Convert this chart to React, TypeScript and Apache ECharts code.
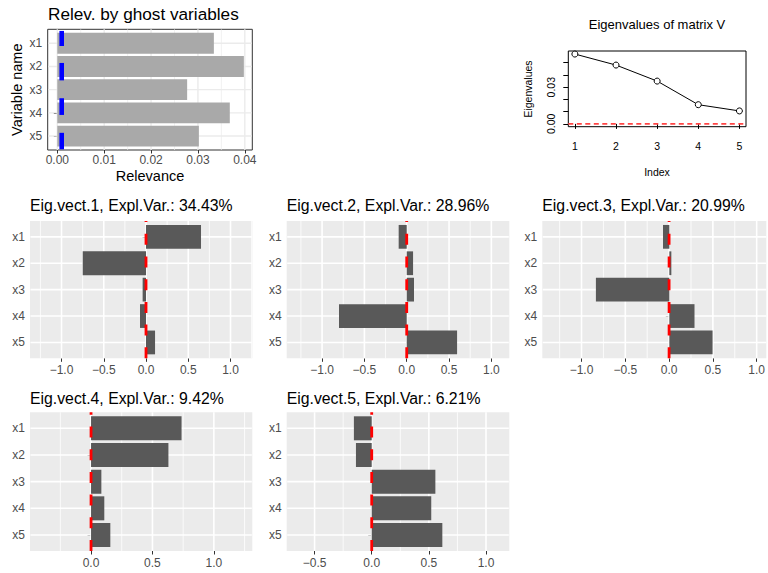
import React, { useEffect, useRef } from 'react';
import * as echarts from 'echarts';

// ---------------- data ----------------
const variables = ['x1', 'x2', 'x3', 'x4', 'x5'];
const relevance = [0.0334, 0.0398, 0.0277, 0.0368, 0.0302];
// blue ghost marks: value, and vertical extent in category units relative to the row centre (null = no mark)
const ghostValue = [0.00094, 0.00094, null, 0.00094, 0.00094];
const ghostLow = [-0.53, -0.15, null, -0.63, -0.14];
const ghostHigh = [0.12, 0.6, null, 0.09, 0.57];
const relevanceTicks = [0, 0.01, 0.02, 0.03, 0.04];
const relevanceMinor = [0.005, 0.015, 0.025, 0.035];

const eigIndex = [1, 2, 3, 4, 5];
const eigenvalues = [0.0571, 0.0481, 0.035, 0.0157, 0.0106];
const eigTickValues = [0, 0.01, 0.02, 0.03, 0.04, 0.05];
const eigLabelValues = [0, 0.03];

const explVar = ['34.43%', '28.96%', '20.99%', '9.42%', '6.21%'];
const eigVect1 = [0.651, -0.749, -0.04, -0.071, 0.107];
const eigVect2 = [-0.095, 0.075, 0.086, -0.8, 0.595];
const eigVect3 = [-0.072, 0.023, -0.837, 0.287, 0.493];
const eigVect4 = [0.737, 0.63, 0.084, 0.108, 0.157];
const eigVect5 = [-0.156, -0.138, 0.557, 0.521, 0.618];
const vectMajor = [-1, -0.5, 0, 0.5, 1];
const vectMinor = [-1.25, -0.75, -0.25, 0.25, 0.75, 1.25];

const FONT = '"Liberation Sans", Arial, Helvetica, sans-serif';

function vLines(axisIdx: number, values: number[], width: number, color: string, z: number) {
  return {
    type: 'custom', xAxisIndex: axisIdx, yAxisIndex: axisIdx, silent: true, z,
    data: values.map((v) => [v, 0]),
    renderItem: (params: any, api: any) => {
      const cs = params.coordSys;
      const x = api.coord([api.value(0), 0])[0];
      return { type: 'line', shape: { x1: x, y1: cs.y, x2: x, y2: cs.y + cs.height }, style: { stroke: color, lineWidth: width } };
    },
  };
}

function hLines(axisIdx: number, n: number, width: number, color: string, z: number) {
  return {
    type: 'custom', xAxisIndex: axisIdx, yAxisIndex: axisIdx, silent: true, z,
    data: Array.from({ length: n }, (_, i) => [0, i]),
    renderItem: (params: any, api: any) => {
      const cs = params.coordSys;
      const y = api.coord([0, api.value(1)])[1];
      return { type: 'line', shape: { x1: cs.x + 0.5, y1: y, x2: cs.x + cs.width - 0.5, y2: y }, style: { stroke: color, lineWidth: width } };
    },
  };
}

function buildOption() {
  const grid: any[] = [];
  const xAxis: any[] = [];
  const yAxis: any[] = [];
  const series: any[] = [];
  const graphic: any[] = [];

  const addPanel = (p: any) => {
    const band = (p.bottom - p.top) / (p.cats.length + 0.2);
    const inset = band * 0.1;
    const inRange = (v: number) => v > p.min + 1e-9 && v < p.max - 1e-9;
    const majors = p.major.filter(inRange);
    const minors = p.minor.filter(inRange);
    const bg = grid.length;
    grid.push({
      left: p.left, top: p.top, width: p.right - p.left, height: p.bottom - p.top,
      show: true, backgroundColor: p.bgColor, borderColor: p.borderColor, borderWidth: p.borderWidth,
    });
    xAxis.push({
      type: 'value', gridIndex: bg, min: p.min, max: p.max,
      axisLine: { show: false }, splitLine: { show: false },
      axisTick: { show: true, customValues: majors, length: 3.5, lineStyle: { color: '#333333', width: 1 } },
      axisLabel: { customValues: majors, formatter: p.fmt, color: '#4D4D4D', fontSize: p.tickFont, fontFamily: FONT, margin: p.xMargin },
    });
    yAxis.push({ type: 'value', gridIndex: bg, min: 0, max: 1, show: false });
    const fg = grid.length;
    grid.push({ left: p.left, top: p.top + inset, width: p.right - p.left, height: p.bottom - p.top - 2 * inset, show: false });
    xAxis.push({ type: 'value', gridIndex: fg, min: p.min, max: p.max, show: false });
    yAxis.push({
      type: 'category', gridIndex: fg, data: p.cats, inverse: true,
      axisLine: { show: false }, splitLine: { show: false },
      axisTick: { show: true, alignWithLabel: true, length: 3.5, lineStyle: { color: '#333333', width: 1 } },
      axisLabel: { color: '#4D4D4D', fontSize: p.tickFont, fontFamily: FONT, margin: p.yMargin },
    });
    series.push(vLines(bg, minors, p.minorW, p.gridColor, 1));
    series.push(vLines(bg, majors, p.majorW, p.gridColor, 1));
    series.push(hLines(fg, p.cats.length, p.majorW, p.gridColor, 1));
    series.push({
      type: 'bar', xAxisIndex: fg, yAxisIndex: fg, data: p.vals, barWidth: '90%', silent: true, z: 2,
      itemStyle: { color: p.barColor },
    });
    return { bg, fg };
  };

  // ---------- Relevance panel ----------
  const rel = addPanel({
    left: 47.7, top: 29.3, right: 252.3, bottom: 150, min: -0.00205, max: 0.0416,
    major: relevanceTicks, minor: relevanceMinor, cats: variables, vals: relevance,
    bgColor: '#FFFFFF', borderColor: '#333333', borderWidth: 1, gridColor: '#EBEBEB', majorW: 1.4, minorW: 0.7,
    barColor: '#A9A9A9', tickFont: 12, xMargin: 4, yMargin: 5.5,
    fmt: (v: number) => v.toFixed(2),
  });
  series.push({
    type: 'custom', xAxisIndex: rel.fg, yAxisIndex: rel.fg, silent: true, z: 3,
    data: variables
      .map((_, i) => (ghostValue[i] == null ? null : [ghostValue[i], i, ghostLow[i], ghostHigh[i]]))
      .filter((d) => d !== null),
    renderItem: (params: any, api: any) => {
      const c = api.coord([api.value(0), api.value(1)]);
      const bandH = api.size([0, 1])[1];
      const lo = api.value(2);
      const hi = api.value(3);
      return { type: 'rect', shape: { x: c[0] - 2.3, y: c[1] + lo * bandH, width: 4.6, height: (hi - lo) * bandH }, style: { fill: '#0000FF' } };
    },
  });
  graphic.push({ type: 'text', x: 48, y: 14, style: { text: 'Relev. by ghost variables', fontSize: 17.2, fontFamily: FONT, fill: '#000', align: 'left', verticalAlign: 'middle' } });
  graphic.push({ type: 'text', x: 150, y: 176, style: { text: 'Relevance', fontSize: 14.5, fontFamily: FONT, fill: '#000', align: 'center', verticalAlign: 'middle' } });
  graphic.push({ type: 'text', x: 17, y: 89.7, rotation: Math.PI / 2, style: { text: 'Variable name', fontSize: 14.5, fontFamily: FONT, fill: '#000', align: 'center', verticalAlign: 'middle' } });

  // ---------- Eigenvector panels ----------
  const vects = [eigVect1, eigVect2, eigVect3, eigVect4, eigVect5];
  const layouts = [
    { left: 30, top: 221, right: 252.3, bottom: 358.3, min: -1.373, max: 1.258, titleY: 205.5 },
    { left: 286.7, top: 221, right: 509.3, bottom: 358.3, min: -1.418, max: 1.212, titleY: 205.5 },
    { left: 542.3, top: 221, right: 766.7, bottom: 358.3, min: -1.448, max: 1.11, titleY: 205.5 },
    { left: 30, top: 412.3, right: 252.3, bottom: 551, min: -0.497, max: 1.313, titleY: 398 },
    { left: 286.7, top: 412.3, right: 509.3, bottom: 551, min: -0.744, max: 1.204, titleY: 398 },
  ];
  vects.forEach((vals, k) => {
    const L = layouts[k];
    const ax = addPanel({
      ...L, major: vectMajor, minor: vectMinor, cats: variables, vals,
      bgColor: '#EBEBEB', borderColor: 'transparent', borderWidth: 0, gridColor: '#FFFFFF', majorW: 1.6, minorW: 0.8,
      barColor: '#595959', tickFont: 12, xMargin: 5.5, yMargin: 5,
      fmt: (v: number) => (v < 0 ? '\u2212' : '') + Math.abs(v).toFixed(1),
    });
    series.push({
      type: 'custom', xAxisIndex: ax.bg, yAxisIndex: ax.bg, silent: true, z: 4,
      data: [[0, 0]],
      renderItem: (params: any, api: any) => {
        const cs = params.coordSys;
        const x = api.coord([0, 0])[0];
        return { type: 'line', shape: { x1: x, y1: cs.y + cs.height, x2: x, y2: cs.y }, style: { stroke: '#FF0000', lineWidth: 2.8, lineDash: [11, 11.7], lineCap: 'butt' } };
      },
    });
    graphic.push({
      type: 'text', x: L.left, y: L.titleY,
      style: { text: `Eig.vect.${k + 1}, Expl.Var.: ${explVar[k]}`, fontSize: 15.8, fontFamily: FONT, fill: '#000', align: 'left', verticalAlign: 'middle' },
    });
  });

  // ---------- Eigenvalues (base R style) ----------
  const ev = grid.length;
  grid.push({ left: 568.3, top: 51, width: 746 - 568.3, height: 126.7 - 51, show: true, backgroundColor: 'transparent', borderColor: '#000', borderWidth: 1 });
  xAxis.push({
    type: 'value', gridIndex: ev, min: 0.84, max: 5.16,
    axisLine: { show: false }, splitLine: { show: false },
    axisTick: { show: true, customValues: eigIndex, length: 5, lineStyle: { color: '#000', width: 1 } },
    axisLabel: { customValues: eigIndex, color: '#000', fontSize: 10.5, fontFamily: FONT, margin: 14 },
  });
  yAxis.push({
    type: 'value', gridIndex: ev, min: -0.00229, max: 0.0596,
    axisLine: { show: false }, splitLine: { show: false },
    axisTick: { show: true, customValues: eigTickValues, length: 5, lineStyle: { color: '#000', width: 1 } },
    axisLabel: { customValues: eigLabelValues, rotate: 90, formatter: (v: number) => v.toFixed(2), color: '#000', fontSize: 10.5, fontFamily: FONT, margin: 12 },
  });
  series.push({
    type: 'custom', xAxisIndex: ev, yAxisIndex: ev, silent: true, z: 1,
    data: [[0, 0]],
    renderItem: (params: any, api: any) => {
      const cs = params.coordSys;
      const y = api.coord([1, 0])[1];
      return { type: 'line', shape: { x1: cs.x, y1: y, x2: cs.x + cs.width, y2: y }, style: { stroke: '#FF4545', lineWidth: 1.8, lineDash: [5, 3.5] } };
    },
  });
  const evPoints = eigIndex.map((x, i) => [x, eigenvalues[i]]);
  series.push({
    type: 'line', xAxisIndex: ev, yAxisIndex: ev, silent: true, z: 2,
    data: evPoints, symbol: 'none',
    lineStyle: { color: '#000', width: 1 },
  });
  series.push({
    type: 'scatter', xAxisIndex: ev, yAxisIndex: ev, silent: true, z: 3,
    data: evPoints, symbol: 'circle', symbolSize: 6,
    itemStyle: { color: '#FFFFFF', borderColor: '#000', borderWidth: 1, opacity: 1 },
  });
  graphic.push({ type: 'text', x: 657, y: 24, style: { text: 'Eigenvalues of matrix V', fontSize: 13, fontFamily: FONT, fill: '#000', align: 'center', verticalAlign: 'middle' } });
  graphic.push({ type: 'text', x: 657, y: 172, style: { text: 'Index', fontSize: 10.5, fontFamily: FONT, fill: '#000', align: 'center', verticalAlign: 'middle' } });
  graphic.push({ type: 'text', x: 528, y: 89, rotation: Math.PI / 2, style: { text: 'Eigenvalues', fontSize: 10.5, fontFamily: FONT, fill: '#000', align: 'center', verticalAlign: 'middle' } });

  return { animation: false, backgroundColor: '#FFFFFF', grid, xAxis, yAxis, series, graphic };
}

export default function App() {
  const ref = useRef<HTMLDivElement>(null);
  useEffect(() => {
    const chart = echarts.init(ref.current as HTMLDivElement, undefined, { renderer: 'svg' });
    chart.setOption(buildOption() as any);
    return () => chart.dispose();
  }, []);
  return <div ref={ref} style={{ position: 'fixed', left: 0, top: 0, width: 768, height: 573, background: '#fff' }} />;
}
